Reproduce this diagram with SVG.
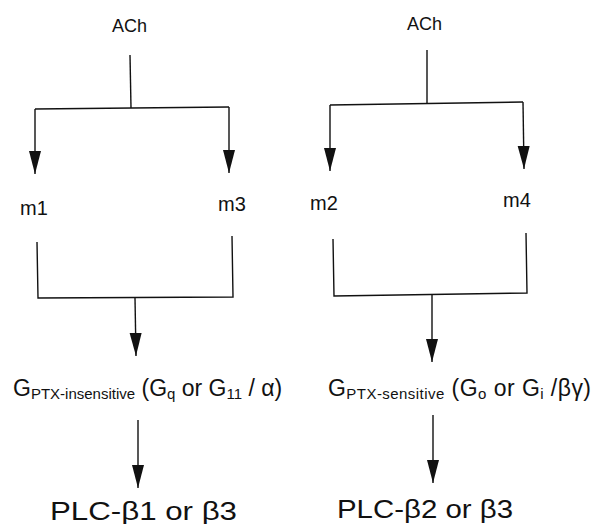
<svg xmlns="http://www.w3.org/2000/svg" width="593" height="524" viewBox="0 0 593 524">
<style>
text{font-family:"Liberation Sans",Arial,sans-serif;fill:#111}
.ach{font-size:18px}
.m{font-size:20px}
.g{font-size:23px}
.s{font-size:15px}
.plc{font-size:25px}
.ln{stroke:#111;stroke-width:1.4;fill:none}
.ar{stroke:#111;stroke-width:1.4;fill:none;marker-end:url(#ah)}
</style>
<defs>
<marker id="ah" markerUnits="userSpaceOnUse" markerWidth="26" markerHeight="14" viewBox="-24 -7 26 14" refX="0" refY="0" orient="auto">
<path d="M0,0 L-23,-6 L-23,6 Z" fill="#111"/>
</marker>
</defs>
<rect width="593" height="524" fill="#fff"/>
<g id="ach-left"><text class="ach" x="112" y="32">ACh</text></g>
<g id="ach-right"><text class="ach" x="407" y="30">ACh</text></g>
<g id="m1"><text class="m" x="20" y="215">m1</text></g>
<g id="m3"><text class="m" x="218" y="211">m3</text></g>
<g id="m2"><text class="m" x="310" y="210">m2</text></g>
<g id="m4"><text class="m" x="503" y="207">m4</text></g>
<g id="g-insensitive"><text class="g" x="13" y="396">G<tspan class="s" dy="3">PTX-insensitive</tspan><tspan dy="-3"> (G</tspan><tspan class="s" dy="3">q</tspan><tspan dy="-3"> or G</tspan><tspan class="s" dy="3">11</tspan><tspan dy="-3"> / α)</tspan></text></g>
<g id="g-sensitive"><text class="g" x="328" y="396" textLength="263" lengthAdjust="spacing">G<tspan class="s" dy="3">PTX-sensitive</tspan><tspan dy="-3"> (G</tspan><tspan class="s" dy="3">o</tspan><tspan dy="-3"> or G</tspan><tspan class="s" dy="3">i</tspan><tspan dy="-3"> /βγ)</tspan></text></g>
<g id="plc-left"><text class="plc" x="50" y="520" textLength="187" lengthAdjust="spacingAndGlyphs">PLC-β1 or β3</text></g>
<g id="plc-right"><text class="plc" x="337" y="518" textLength="176" lengthAdjust="spacingAndGlyphs">PLC-β2 or β3</text></g>
<g id="connectors">
<path class="ln" d="M130,55 L131,108"/>
<path class="ln" d="M35,109 L229,107"/>
<path class="ar" d="M35,109 L35,174"/>
<path class="ar" d="M229,107 L229,173"/>
<path class="ln" d="M37,242 L38,298 L233,297 L232,236"/>
<path class="ar" d="M135,298 L136,356"/>
<path class="ar" d="M138,420 L138,488"/>
<path class="ln" d="M427,50 L427,104"/>
<path class="ln" d="M330,105 L523,102"/>
<path class="ar" d="M330,105 L330,171"/>
<path class="ar" d="M523,102 L524,169"/>
<path class="ln" d="M333,239 L334,296 L527,293 L526,233"/>
<path class="ar" d="M432,295 L432,362"/>
<path class="ar" d="M433,415 L433,483"/>
</g>
</svg>
